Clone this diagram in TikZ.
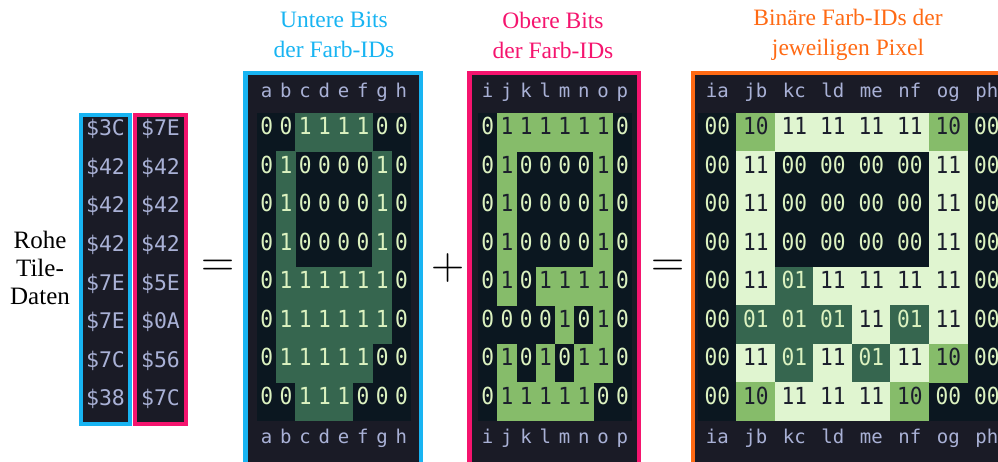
\documentclass[tikz,border=0pt]{standalone}
\usepackage{fontspec}
\setmainfont{Liberation Serif}
\newfontfamily\codefont{DejaVu Sans Mono}
\newfontfamily\bitfont[FakeStretch=0.9]{DejaVu Sans Mono}
\newfontfamily\opfont{Latin Modern Roman}

\definecolor{lowblue}{HTML}{18B4F2}
\definecolor{highpink}{HTML}{F5146E}
\definecolor{idorange}{HTML}{FF6A14}
\definecolor{panelbg}{HTML}{1A1B26}
\definecolor{gridbg}{HTML}{0B1720}
\definecolor{hdrtext}{HTML}{A9B1D6}
\definecolor{gdark}{HTML}{36664F}
\definecolor{gmid}{HTML}{86BC6A}
\definecolor{glight}{HTML}{E0F5D0}
\definecolor{digitlight}{HTML}{DCF2C0}
\definecolor{digitdark}{HTML}{1B1E2C}

\tikzset{
  panel/.style={fill=panelbg, line width=4.5pt},
  gridarea/.style={fill=gridbg},
  codetext/.style={inner sep=0pt, text height=1.45ex, text depth=0.3ex,
    font=\bitfont\fontsize{23.5}{23.5}\selectfont},
  hdr/.style={inner sep=0pt, text height=1.45ex, text depth=0.3ex,
    font=\codefont\fontsize{19}{19}\selectfont, text=hdrtext},
  rawtext/.style={inner sep=0pt, text height=1.45ex, text depth=0.3ex,
    font=\codefont\fontsize{21.5}{21.5}\selectfont, text=hdrtext},
  bitlight/.style={codetext, text=digitlight},
  bitdark/.style={codetext, text=digitdark},
  title/.style={align=center, inner sep=0pt, font=\rmfamily\fontsize{23.5}{30}\selectfont},
  opsign/.style={inner sep=0pt, font=\opfont\fontsize{46}{46}\selectfont},
}

\begin{document}
\begin{tikzpicture}[x=1pt,y=-1pt]
\useasboundingbox (0,0) rectangle (998,462);
\clip (0,0) rectangle (998,462);

% ---------- raw tile bytes ----------
\node[title, font=\rmfamily\fontsize{25}{28}\selectfont] (rawlabel) at (40,268) {Rohe\\Tile-\\Daten};
\draw[panel, draw=lowblue, line width=4pt] (81,115) rectangle (129.5,423.5);
\draw[panel, draw=highpink, line width=4pt] (135,115) rectangle (186,423.5);
\foreach \lo/\hi [count=\r] in {3C/7E,42/42,42/42,42/42,7E/5E,7E/0A,7C/56,38/7C}{
  \node[rawtext] (rawlo-\r) at (105.5,{133+(\r-1)*38.6}) {\$\lo};
  \node[rawtext] (rawhi-\r) at (160.5,{133+(\r-1)*38.6}) {\$\hi};
}

% ---------- operators ----------
\node[opsign] (eqA) at (218,268) {=};
\node[opsign] (plus) at (448,268) {+};
\node[opsign] (eqB) at (668,268) {=};

% ---------- titles ----------
\node[title, text=lowblue] (tlow) at (334,35) {Untere Bits\\der Farb-IDs};
\node[title, text=highpink] (thigh) at (553,35) {Obere Bits\\der Farb-IDs};
\node[title, text=idorange] (tid) at (848,35) {Binäre Farb-IDs der\\jeweiligen Pixel};

% ---------- low bit plane ----------
\draw[panel, draw=lowblue] (245.25,73.25) rectangle (420.75,480);
\fill[gridarea] (257,113) rectangle (411,421);
\foreach \bits [count=\r] in {{0,0,1,1,1,1,0,0},{0,1,0,0,0,0,1,0},{0,1,0,0,0,0,1,0},{0,1,0,0,0,0,1,0},
                              {0,1,1,1,1,1,1,0},{0,1,1,1,1,1,1,0},{0,1,1,1,1,1,0,0},{0,0,1,1,1,0,0,0}}{
  \foreach \b [count=\c] in \bits {
    \ifnum\b=1
      \fill[gdark] ({257+(\c-1)*19.25-0.2},{113+(\r-1)*38.5-0.2}) rectangle ++(19.65,38.9);
    \fi
    \node[bitlight] (lo-\r-\c) at ({257+(\c-0.5)*19.25},{113+(\r-0.5)*38.5}) {\b};
  }
}
\foreach \l [count=\c] in {a,b,c,d,e,f,g,h}{
  \node[hdr] (lohead-\c) at ({257+(\c-0.5)*19.25},95) {\l};
  \node[hdr] (lofoot-\c) at ({257+(\c-0.5)*19.25},441) {\l};
}

% ---------- high bit plane ----------
\draw[panel, draw=highpink] (469.25,73.25) rectangle (638.75,480);
\fill[gridarea] (478,113) rectangle (632,421);
\foreach \bits [count=\r] in {{0,1,1,1,1,1,1,0},{0,1,0,0,0,0,1,0},{0,1,0,0,0,0,1,0},{0,1,0,0,0,0,1,0},
                              {0,1,0,1,1,1,1,0},{0,0,0,0,1,0,1,0},{0,1,0,1,0,1,1,0},{0,1,1,1,1,1,0,0}}{
  \foreach \b [count=\c] in \bits {
    \ifnum\b=1
      \fill[gmid] ({478+(\c-1)*19.25-0.2},{113+(\r-1)*38.5-0.2}) rectangle ++(19.65,38.9);
      \node[bitdark] (hi-\r-\c) at ({478+(\c-0.5)*19.25},{113+(\r-0.5)*38.5}) {\b};
    \else
      \node[bitlight] (hi-\r-\c) at ({478+(\c-0.5)*19.25},{113+(\r-0.5)*38.5}) {\b};
    \fi
  }
}
\foreach \l [count=\c] in {i,j,k,l,m,n,o,p}{
  \node[hdr] (hihead-\c) at ({478+(\c-0.5)*19.25},95) {\l};
  \node[hdr] (hifoot-\c) at ({478+(\c-0.5)*19.25},441) {\l};
}

% ---------- combined colour ids ----------
\draw[panel, draw=idorange] (692.75,73.25) rectangle (1040,480);
\fill[gridarea] (698,113) rectangle (1010,421);
\foreach \ids [count=\r] in {{00,10,11,11,11,11,10,00},{00,11,00,00,00,00,11,00},{00,11,00,00,00,00,11,00},{00,11,00,00,00,00,11,00},
                             {00,11,01,11,11,11,11,00},{00,01,01,01,11,01,11,00},{00,11,01,11,01,11,10,00},{00,10,11,11,11,10,00,00}}{
  \foreach \v [count=\c] in \ids {
    \ifnum\v=11
      \fill[glight] ({698+(\c-1)*38.5-0.2},{113+(\r-1)*38.5-0.2}) rectangle ++(38.9,38.9);
      \node[bitdark] (id-\r-\c) at ({698+(\c-0.5)*38.5},{113+(\r-0.5)*38.5}) {\v};
    \else\ifnum\v=10
      \fill[gmid] ({698+(\c-1)*38.5-0.2},{113+(\r-1)*38.5-0.2}) rectangle ++(38.9,38.9);
      \node[bitdark] (id-\r-\c) at ({698+(\c-0.5)*38.5},{113+(\r-0.5)*38.5}) {\v};
    \else\ifnum\v=1
      \fill[gdark] ({698+(\c-1)*38.5-0.2},{113+(\r-1)*38.5-0.2}) rectangle ++(38.9,38.9);
      \node[bitlight] (id-\r-\c) at ({698+(\c-0.5)*38.5},{113+(\r-0.5)*38.5}) {\v};
    \else
      \node[bitlight] (id-\r-\c) at ({698+(\c-0.5)*38.5},{113+(\r-0.5)*38.5}) {\v};
    \fi\fi\fi
  }
}
\foreach \l [count=\c] in {ia,jb,kc,ld,me,nf,og,ph}{
  \node[hdr] (idhead-\c) at ({698+(\c-0.5)*38.5},95) {\l};
  \node[hdr] (idfoot-\c) at ({698+(\c-0.5)*38.5},441) {\l};
}
\end{tikzpicture}
\end{document}
